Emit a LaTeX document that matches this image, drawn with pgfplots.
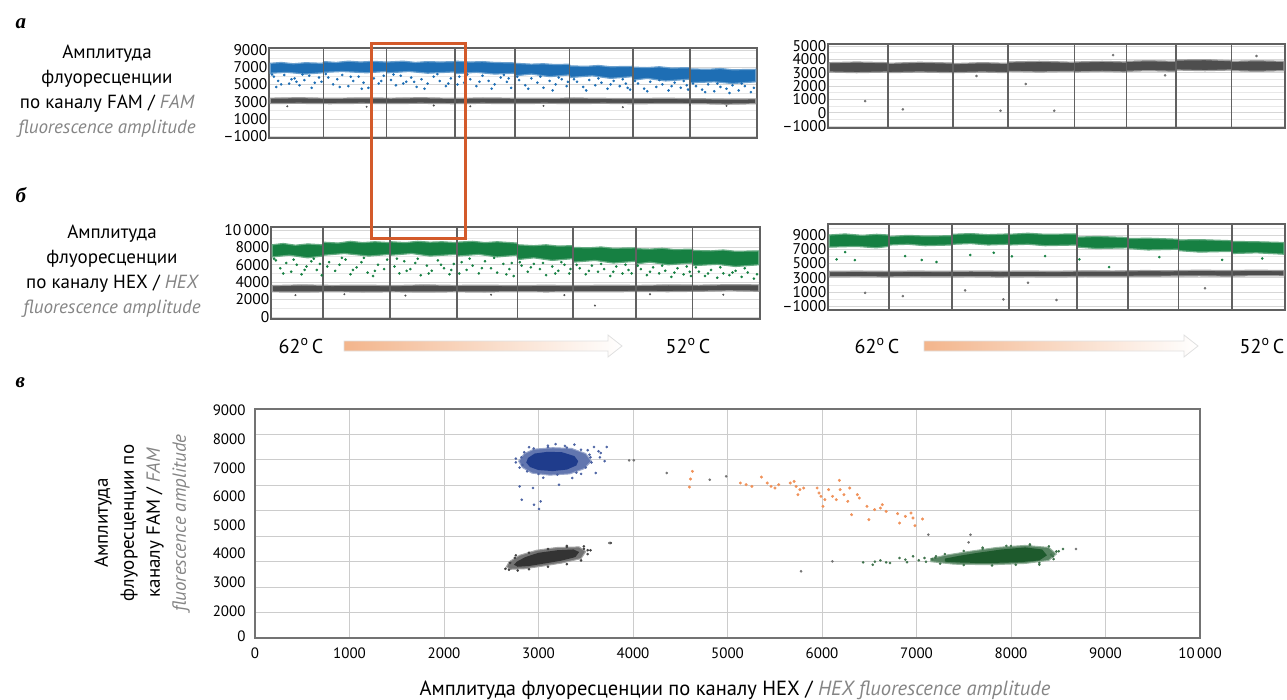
\documentclass[border=0pt]{standalone}
\usepackage{fontspec}
\setmainfont{PT Sans}
\newfontfamily\serifbi{Liberation Serif}
\usepackage{pgfplots}
\pgfplotsset{compat=1.18}
\definecolor{famblue}{HTML}{1E6EB4}
\definecolor{hexgreen}{HTML}{168042}
\definecolor{negray}{HTML}{4E4E4E}
\definecolor{labgray}{HTML}{858585}
\definecolor{redbox}{HTML}{D35A2A}
\definecolor{navy}{HTML}{1F3C8C}
\definecolor{dkgreen}{HTML}{1D5A2C}
\definecolor{orng}{HTML}{F0925A}
\definecolor{peach}{HTML}{F3B58C}
\pgfplotsset{
  strip/.style={
    scale only axis, anchor=north west,
    xmin=0, xmax=8, xtick=\empty,
    scaled y ticks=false,
    axis line style={draw=black!62, line width=1.4pt},
    major tick length=0pt, minor tick length=0pt,
    ymajorgrids, yminorgrids,
    grid style={draw=black!16, line width=0.6pt},
    minor grid style={draw=black!9, line width=0.5pt},
    tick label style={font=\fontsize{15.5}{15.5}\selectfont},
    yticklabel style={inner sep=1.5pt},
    /pgf/number format/assume math mode=true,
    clip=true,
  },
  div/.style={draw=black!62, line width=1.4pt, forget plot},
}
\begin{document}
\begin{tikzpicture}[x=1pt,y=1pt]
\path[use as bounding box] (0pt,0pt) rectangle (1287pt,-699pt);

% ---------- panel a, left ----------
\begin{axis}[strip, at={(269pt,-48pt)}, width=488pt, height=90pt,
  ymin=-1230, ymax=9230,
  ytick={-1000,1000,3000,5000,7000,9000},
  yticklabels={–1000,1000,3000,5000,7000,9000},
  minor ytick={0,2000,4000,6000,8000}]
\addplot[fill=negray, draw=negray!55, line width=1.2pt] coordinates {
(0.02,3400)(0.5,3450)(1,3380)(1.5,3430)(2,3400)(2.5,3450)(3,3380)(3.5,3420)(4,3400)(4.5,3380)(5,3420)(5.5,3380)(6,3350)(6.5,3400)(7,3330)(7.5,3300)(7.98,3320)
(7.98,2750)(7.5,2700)(7,2760)(6.5,2780)(6,2750)(5.5,2800)(5,2780)(4.5,2800)(4,2770)(3.5,2800)(3,2760)(2.5,2800)(2,2780)(1.5,2800)(1,2760)(0.5,2800)(0.02,2780)} -- cycle;
\addplot[only marks, mark=*, mark size=0.8pt, negray] coordinates {
(0.3,2450)(1.6,2400)(2.7,2550)(4.5,2500)(5.8,2350)(7.5,2500)(6.9,2600)(3.3,2450)};
\addplot[fill=famblue, draw=famblue!65, line width=1.2pt] coordinates {
(0.02,7450)(0.2,7550)(0.4,7400)(0.6,7520)(0.88,7450)
(0.90,7650)(1.1,7550)(1.3,7700)(1.5,7600)(1.7,7680)(1.92,7600)
(1.94,7600)(2.2,7700)(2.4,7550)(2.6,7650)(2.8,7600)(3.04,7650)
(3.06,7700)(3.3,7600)(3.5,7650)(3.7,7550)(4.02,7500)
(4.04,7450)(4.3,7350)(4.5,7400)(4.7,7300)(4.92,7350)
(4.94,7150)(5.2,7100)(5.4,7200)(5.6,7050)(5.96,7100)
(5.98,7000)(6.2,6950)(6.4,7050)(6.6,6900)(6.89,6950)
(6.91,6800)(7.2,6750)(7.4,6850)(7.6,6700)(7.98,6750)
(7.98,5300)(7.6,5100)(7.3,5300)(6.91,5200)
(6.89,5600)(6.5,5400)(6.2,5700)(5.98,5500)
(5.96,5900)(5.6,5700)(5.3,6000)(4.94,5800)
(4.92,6100)(4.6,5900)(4.3,6200)(4.04,6000)
(4.02,6300)(3.7,6200)(3.4,6400)(3.06,6250)
(3.04,6450)(2.6,6300)(2.3,6500)(1.94,6350)
(1.92,6500)(1.6,6350)(1.2,6500)(0.90,6400)
(0.88,6350)(0.6,6200)(0.3,6400)(0.02,6300)} -- cycle;
\addplot[only marks, mark=*, mark size=1.1pt, famblue] coordinates {
(0.08,5900)(0.15,5400)(0.25,6100)(0.33,5100)(0.42,5700)(0.5,4900)(0.58,5500)(0.66,6000)(0.75,5200)(0.82,5800)(0.12,4700)(0.45,5300)
(0.97,5800)(1.05,5000)(1.12,5600)(1.2,6100)(1.3,4800)(1.38,5400)(1.47,5900)(1.55,5200)(1.63,4600)(1.72,5700)(1.8,5100)(1.88,6000)
(2.0,5500)(2.08,4900)(2.16,6000)(2.25,5300)(2.33,5800)(2.42,4700)(2.5,5600)(2.6,5100)(2.7,5900)(2.8,5400)(2.9,4800)(2.98,5700)
(3.12,5900)(3.2,5200)(3.3,5600)(3.4,4800)(3.5,6000)(3.6,5400)(3.7,5000)(3.8,5800)(3.9,5300)(3.97,4600)
(4.1,5500)(4.2,4900)(4.3,5700)(4.4,5200)(4.5,4600)(4.6,5400)(4.7,5000)(4.8,5600)(4.88,4800)
(5.05,5300)(5.15,4700)(5.25,5500)(5.35,4900)(5.45,5200)(5.55,4500)(5.65,5400)(5.75,4800)(5.85,5100)(5.92,4400)
(6.05,5100)(6.15,4500)(6.25,5300)(6.35,4700)(6.45,5000)(6.55,4300)(6.65,5200)(6.75,4600)(6.85,4900)
(7.0,4800)(7.1,4400)(7.2,5000)(7.3,4200)(7.4,4700)(7.5,4500)(7.6,4900)(7.7,4300)(7.8,4800)(7.9,4100)
(0.05,6150)(0.2,5000)(0.37,5600)(0.55,6150)(0.7,4600)(0.86,5300)
(0.93,6200)(1.16,4700)(1.34,5900)(1.52,4500)(1.68,6200)(1.84,5400)
(2.04,6150)(2.2,5100)(2.38,5300)(2.55,4500)(2.76,6200)(2.94,5100)
(3.09,5000)(3.25,6150)(3.45,5300)(3.65,4500)(3.85,6100)(3.93,5700)
(4.07,5900)(4.25,4500)(4.45,5900)(4.65,4300)(4.75,5800)(4.9,5300)
(5.0,5600)(5.2,4300)(5.4,5700)(5.6,5000)(5.8,5600)(5.88,4600)
(6.0,5400)(6.2,4200)(6.4,5500)(6.6,4800)(6.8,5400)(6.87,4400)
(6.95,5100)(7.15,4100)(7.35,5100)(7.55,4000)(7.75,5100)(7.95,4600)};
\pgfplotsinvokeforeach{0.89,1.93,3.05,4.03,4.93,5.97,6.90}{\addplot[div] coordinates {(#1,-3000) (#1,12000)};}
\end{axis}

% ---------- panel a, right ----------
\begin{axis}[strip, at={(828pt,-44pt)}, width=457pt, height=84pt,
  ymin=-1150, ymax=5150,
  ytick={-1000,0,1000,2000,3000,4000,5000},
  yticklabels={–1000,0,1000,2000,3000,4000,5000},
  minor ytick={-500,500,1500,2500,3500,4500}]
\addplot[fill=negray, draw=negray!55, line width=1.2pt] coordinates {
(0.02,3750)(0.5,3800)(1.04,3750)(1.06,3700)(1.6,3780)(2.18,3720)(2.2,3680)(2.7,3750)(3.14,3700)(3.16,3800)(3.7,3850)(4.3,3780)(4.32,3800)(4.8,3850)(5.21,3800)(5.23,3850)(5.6,3900)(6.08,3850)(6.1,3950)(6.6,3980)(7.05,3900)(7.07,3850)(7.5,3900)(7.98,3850)
(7.98,3150)(7.5,3100)(7.07,3150)(7.05,3200)(6.6,3150)(6.1,3200)(6.08,3100)(5.6,3150)(5.23,3100)(5.21,3050)(4.8,3100)(4.32,3050)(4.3,3100)(3.7,3050)(3.16,3100)(3.14,3000)(2.7,3050)(2.2,3000)(2.18,3000)(1.6,3050)(1.06,3000)(1.04,3050)(0.5,3000)(0.02,3050)} -- cycle;
\addplot[only marks, mark=*, mark size=1.1pt, negray!80] coordinates {
(0.65,870)(1.31,250)(3.02,150)(3.46,2150)(3.96,150)(4.99,4320)(7.5,4250)(2.6,2750)(5.9,2800)};
\pgfplotsinvokeforeach{1.05,2.19,3.15,4.31,5.22,6.09,7.06}{\addplot[div] coordinates {(#1,-3000) (#1,12000)};}
\end{axis}

% ---------- panel b, left ----------
\begin{axis}[strip, at={(271pt,-227pt)}, width=489pt, height=92pt,
  ymin=-250, ymax=10350,
  ytick={0,2000,4000,6000,8000,10000},
  yticklabels={0,2000,4000,6000,8000,10\,000},
  minor ytick={1000,3000,5000,7000,9000}]
\addplot[fill=negray, draw=negray!55, line width=1.2pt] coordinates {
(0.02,3600)(0.5,3680)(1,3620)(1.5,3650)(2,3600)(2.5,3680)(3,3620)(3.5,3650)(4,3600)(4.5,3640)(5,3600)(5.5,3650)(6,3620)(6.5,3680)(7,3650)(7.5,3700)(7.98,3680)
(7.98,2950)(7.5,3000)(7,2950)(6.5,2900)(6,2920)(5.5,2880)(5,2900)(4.5,2870)(4,2900)(3.5,2860)(3,2880)(2.5,2850)(2,2880)(1.5,2860)(1,2890)(0.5,2850)(0.02,2880)} -- cycle;
\addplot[only marks, mark=*, mark size=0.8pt, negray] coordinates {
(0.4,2500)(1.2,2600)(2.2,2450)(3.6,2550)(4.8,2500)(6.2,2600)(7.4,2550)(5.3,1300)};
\addplot[fill=hexgreen, draw=hexgreen!65, line width=1.2pt] coordinates {
(0.02,8300)(0.2,8450)(0.4,8250)(0.6,8400)(0.84,8300)(0.86,8600)(1.1,8500)(1.3,8700)(1.5,8550)(1.7,8650)(1.94,8550)(1.96,8650)(2.2,8550)(2.4,8700)(2.6,8600)(2.8,8650)(3.03,8550)(3.05,8600)(3.3,8700)(3.5,8550)(3.7,8650)(4.02,8500)(4.04,8300)(4.3,8200)(4.5,8300)(4.7,8150)(4.93,8200)(4.95,8000)(5.2,7950)(5.4,8050)(5.6,7900)(5.96,7950)(5.98,7850)(6.2,7800)(6.4,7900)(6.6,7750)(6.89,7800)(6.91,7650)(7.2,7600)(7.4,7700)(7.6,7550)(7.98,7600)
(7.98,6000)(7.6,5800)(7.3,6050)(6.91,5900)(6.89,6200)(6.5,6000)(6.2,6300)(5.98,6100)(5.96,6400)(5.6,6200)(5.3,6500)(4.95,6300)(4.93,6700)(4.6,6500)(4.3,6800)(4.04,6600)(4.02,7100)(3.7,6900)(3.4,7200)(3.05,7000)(3.03,7200)(2.6,7000)(2.3,7300)(1.96,7100)(1.94,7200)(1.6,7000)(1.2,7300)(0.86,7100)(0.84,7000)(0.6,6800)(0.3,7100)(0.02,6900)} -- cycle;
\addplot[only marks, mark=*, mark size=1.1pt, hexgreen] coordinates {
(0.08,6500)(0.15,5600)(0.25,6200)(0.33,5200)(0.42,6000)(0.5,4900)(0.58,5800)(0.66,6400)(0.75,5400)(0.8,6100)
(0.95,6300)(1.05,5300)(1.12,6000)(1.22,6600)(1.3,4900)(1.4,5700)(1.48,6300)(1.58,5100)(1.67,4700)(1.75,6000)(1.85,5500)
(2.02,5800)(2.1,5000)(2.18,6400)(2.28,5500)(2.36,6200)(2.45,4800)(2.55,5900)(2.63,5300)(2.73,6500)(2.83,5600)(2.92,4900)(2.99,6100)
(3.12,6300)(3.2,5400)(3.3,5900)(3.4,5000)(3.5,6400)(3.6,5600)(3.7,5100)(3.8,6100)(3.9,5500)(3.97,4700)
(4.1,5900)(4.2,5200)(4.3,6100)(4.4,5500)(4.5,4800)(4.6,5800)(4.7,5300)(4.8,6000)(4.88,5000)
(5.05,5600)(5.15,4900)(5.25,5900)(5.35,5200)(5.45,5500)(5.55,4700)(5.65,5800)(5.75,5000)(5.85,5400)
(6.05,5500)(6.15,4800)(6.25,5700)(6.35,5000)(6.45,5300)(6.55,4600)(6.65,5600)(6.75,4900)(6.85,5200)
(7.0,5200)(7.1,4700)(7.2,5400)(7.3,4500)(7.4,5000)(7.5,4800)(7.6,5300)(7.7,4600)(7.8,5100)(7.9,4400)
(0.05,6700)(0.2,5000)(0.37,6600)(0.55,5400)(0.7,6700)(0.83,4800)
(0.92,5800)(1.16,6800)(1.34,5400)(1.52,6800)(1.7,5300)(1.9,6600)
(2.06,6700)(2.22,5300)(2.4,6700)(2.58,5000)(2.78,6000)(2.95,5400)
(3.08,5000)(3.25,6700)(3.45,5600)(3.65,6800)(3.85,4900)(3.94,6200)
(4.07,6300)(4.25,5700)(4.45,6200)(4.65,5000)(4.75,6300)(4.9,5500)
(5.0,6000)(5.2,5300)(5.4,6100)(5.6,5200)(5.8,6000)(5.9,5000)
(6.0,5900)(6.2,5200)(6.4,5900)(6.6,5100)(6.8,5800)(6.87,4700)
(6.95,5700)(7.15,5000)(7.35,5700)(7.55,5100)(7.75,5600)(7.95,4900)};
\pgfplotsinvokeforeach{0.85,1.95,3.04,4.03,4.94,5.97,6.90}{\addplot[div] coordinates {(#1,-3000) (#1,12000)};}
\end{axis}

% ---------- panel b, right ----------
\begin{axis}[strip, at={(828pt,-224pt)}, width=457pt, height=86pt,
  ymin=-1550, ymax=10550,
  ytick={-1000,1000,3000,5000,7000,9000},
  yticklabels={–1000,1000,3000,5000,7000,9000},
  minor ytick={0,2000,4000,6000,8000,10000}]
\addplot[fill=negray, draw=negray!55, line width=1.2pt] coordinates {
(0.02,3850)(0.5,3900)(1,3850)(1.5,3900)(2,3870)(2.5,3920)(3,3880)(3.5,3900)(4,3870)(4.5,3950)(5,3920)(5.5,4000)(6,3980)(6.5,4050)(7,4000)(7.5,4050)(7.98,4000)
(7.98,3250)(7.5,3280)(7,3200)(6.5,3250)(6,3220)(5.5,3200)(5,3150)(4.5,3180)(4,3120)(3.5,3150)(3,3100)(2.5,3150)(2,3120)(1.5,3150)(1,3100)(0.5,3150)(0.02,3120)} -- cycle;
\addplot[only marks, mark=*, mark size=1.1pt, negray!80] coordinates {
(0.65,870)(1.31,410)(3.07,-60)(3.5,2280)(4.0,-150)(2.4,1200)(6.6,1500)};
\addplot[fill=hexgreen, draw=hexgreen!65, line width=1.2pt] coordinates {
(0.02,9000)(0.3,9150)(0.6,8950)(0.85,9100)(1.06,9000)(1.08,8800)(1.4,8950)(1.7,8850)(2.16,8900)(2.18,9100)(2.5,9200)(2.8,9050)(3.16,9150)(3.18,9100)(3.5,9250)(3.8,9100)(4.35,9150)(4.37,8700)(4.7,8800)(5.24,8650)(5.26,8500)(5.6,8550)(6.13,8400)(6.15,8300)(6.5,8350)(7.06,8200)(7.08,8100)(7.5,8050)(7.98,7950)
(7.98,6300)(7.5,6500)(7.08,6400)(7.06,6700)(6.5,6600)(6.15,6800)(6.13,7000)(5.6,6900)(5.26,7100)(5.24,7200)(4.7,7100)(4.37,7300)(4.35,7600)(3.8,7500)(3.5,7700)(3.18,7600)(3.16,7700)(2.8,7600)(2.5,7800)(2.18,7700)(2.16,7600)(1.7,7500)(1.4,7700)(1.08,7600)(1.06,7400)(0.85,7200)(0.5,7400)(0.02,7300)} -- cycle;
\addplot[only marks, mark=*, mark size=1.1pt, hexgreen] coordinates {
(0.15,5580)(0.47,5480)(1.35,6040)(1.64,5480)(1.9,5200)(2.49,6180)(3.22,6000)(3.8,6040)(4.4,5580)(4.92,4490)(0.3,6600)(5.8,5900)(6.9,5500)(7.6,5700)(2.9,6500)};
\pgfplotsinvokeforeach{1.07,2.17,3.17,4.36,5.25,6.14,7.07}{\addplot[div] coordinates {(#1,-3000) (#1,12000)};}
\end{axis}

% ---------- panel v: scatter ----------
\begin{axis}[at={(255pt,-409pt)}, anchor=north west, scale only axis, width=945pt, height=229pt,
  xmin=0, xmax=10000, ymin=0, ymax=9000,
  scaled x ticks=false, scaled y ticks=false,
  xtick={0,1000,...,10000},
  xticklabels={0,1000,2000,3000,4000,5000,6000,7000,8000,9000,10\,000},
  ytick={50,1044,2184,3312,4413,5564,6681,7793,8945},
  yticklabels={0,2000,3000,4000,5000,6000,7000,8000,9000},
  minor ytick={1000,2000,...,8000},
  xmajorgrids, yminorgrids,
  major grid style={draw=black!20, line width=0.9pt},
  minor grid style={draw=black!20, line width=0.9pt},
  major tick length=0pt, minor tick length=0pt,
  axis line style={draw=black!55, line width=2.2pt},
  tick label style={font=\fontsize{15}{15}\selectfont},
  xticklabel style={yshift=-6pt},
  yticklabel style={xshift=-6pt},
  /pgf/number format/assume math mode=true,
  clip=true]
% blue cluster
\addplot[fill=navy!70, draw=navy!45, line width=1pt] coordinates {
(3560,6950)(3500,7250)(3350,7450)(3150,7480)(2950,7420)(2850,7250)(2790,6950)(2830,6700)(2930,6480)(3120,6400)(3330,6450)(3480,6650)} -- cycle;
\addplot[fill=navy, draw=none] coordinates {
(3420,6950)(3380,7150)(3250,7300)(3100,7320)(2960,7250)(2890,7080)(2870,6900)(2910,6720)(3000,6600)(3150,6560)(3300,6620)(3400,6780)} -- cycle;
\addplot[only marks, mark=*, mark size=1.1pt, navy!80] coordinates {
(3587,7506)(3722,7506)(3658,7270)(3605,6484)(3635,7336)(2801,5958)(2822,5435)(2952,5238)(3023,5368)(3005,5069)(2942,5895)(3217,6024)(3358,6288)(3520,7380)(3550,7100)(2800,6700)(2760,6900)(3450,6450)(3050,6300)(3280,7550)(3100,7560)(2900,7500)
(2850,7300)(2820,7100)(2830,6800)(2880,6550)(3000,6450)(3200,6420)(3400,6500)(3500,6700)(3560,6900)(3540,7200)(3450,7400)(3300,7480)(3100,7500)(2950,7450)(3650,7100)(3700,6950)(2760,7050)(3380,7600)(3180,7620)};
% black cluster
\addplot[fill=black!55, draw=black!35, line width=1pt] coordinates {
(2700,2700)(2850,2720)(3050,2830)(3250,2950)(3450,3120)(3500,3400)(3430,3580)(3200,3560)(2980,3450)(2800,3250)(2690,3000)(2660,2800)} -- cycle;
\addplot[fill=black!80, draw=none] coordinates {
(2780,2800)(2900,2830)(3050,2920)(3230,3030)(3390,3180)(3430,3380)(3370,3480)(3200,3450)(3000,3350)(2860,3180)(2770,3000)(2740,2880)} -- cycle;
\addplot[only marks, mark=*, mark size=1.1pt, black!75] coordinates {
(2688,2683)(2650,2720)(3764,3733)(3520,3450)(3480,3600)(2760,3250)(3300,3620)
(2700,2950)(2750,3150)(2900,3350)(3100,3500)(3300,3580)(3480,3500)(3520,3300)(3450,3050)(3300,2900)(3100,2800)(2900,2700)(2780,2650)(3550,3450)};
% orange (rain) points
\addplot[only marks, mark=*, mark size=1.3pt, orng] coordinates {
(4629,6550)(4609,6249)(4597,5934)(5136,6092)(5197,6026)(5258,5961)(5359,6327)(5420,6092)(5461,5961)(5502,5895)(5542,6026)
(5705,6157)(5726,5961)(5766,5830)(5745,5633)(5806,5895)(5664,6092)
(5948,5895)(5969,5699)(5989,5568)(6030,5437)(6010,5175)(6070,5830)(6111,5568)(6151,5437)(6184,6197)(6192,5830)(6232,5633)(6273,5371)(6293,5895)(6313,4847)(6374,5633)(6395,5502)(6476,5175)(6496,4650)(6557,5044)(6618,5109)(6638,5240)(6679,4978)(6800,4886)(6821,4519)(6882,4781)(6942,4912)(6963,4716)(6983,4414)(7064,4677)};
% grey odd points
\addplot[only marks, mark=*, mark size=1.1pt, black!55] coordinates {
(3959,6982)(4008,6982)(4357,6485)(4812,6223)(4986,6354)(3748,3733)(5778,2620)(6110,3013)(7551,3760)(7571,4061)(8687,3498)(7125,4061)};
% green cluster
\addplot[fill=dkgreen!75, draw=dkgreen!45, line width=1pt] coordinates {
(7150,3000)(7400,2900)(7800,2880)(8150,2930)(8400,3050)(8480,3300)(8400,3560)(8150,3640)(7850,3560)(7550,3400)(7300,3250)(7150,3120)} -- cycle;
\addplot[fill=dkgreen, draw=none] coordinates {
(7300,3000)(7500,2960)(7800,2950)(8100,2980)(8300,3050)(8380,3250)(8330,3480)(8150,3560)(7900,3480)(7650,3350)(7450,3230)(7300,3120)} -- cycle;
\addplot[only marks, mark=*, mark size=1.1pt, dkgreen!85] coordinates {
(6435,2974)(6537,2882)(6618,3052)(6679,2974)(6719,2947)(6821,3144)(6882,3078)(6963,3209)(7024,3052)(7084,3144)(7166,3104)(7206,3209)(8424,3275)(8505,3406)(8444,3209)(8200,3680)(8000,3620)(8550,3500)(7700,3500)(7100,3000)(8300,2880)(6560,3000)(6900,2980)
(7200,3150)(7300,3300)(7500,3420)(7700,3550)(7950,3620)(8200,3650)(8400,3600)(8480,3400)(8450,3100)(8300,2950)(8050,2880)(7800,2850)(7500,2870)(7250,2920)};
\end{axis}

% ---------- annotations ----------
\draw[redbox, line width=3pt] (371pt,-43pt) rectangle (465pt,-238pt);

\node[font=\serifbi\bfseries\itshape\fontsize{21}{21}\selectfont, anchor=west] at (12pt,-24pt) {а};
\node[font=\serifbi\bfseries\itshape\fontsize{21}{21}\selectfont, anchor=west] at (12pt,-195pt) {б};
\node[font=\serifbi\bfseries\itshape\fontsize{21}{21}\selectfont, anchor=west] at (12pt,-383pt) {в};

\node[align=center, font=\fontsize{19}{25}\selectfont] at (107pt,-91pt)
 {Амплитуда\\флуоресценции\\по каналу FAM / \textcolor{labgray}{\itshape FAM}\\\textcolor{labgray}{\itshape fluorescence amplitude}};
\node[align=center, font=\fontsize{19}{25}\selectfont] at (112pt,-271pt)
 {Амплитуда\\флуоресценции\\по каналу HEX / \textcolor{labgray}{\itshape HEX}\\\textcolor{labgray}{\itshape fluorescence amplitude}};

\node[rotate=90, align=center, font=\fontsize{19}{26}\selectfont] at (142pt,-523pt)
 {Амплитуда\\флуоресценции по\\каналу FAM / \textcolor{labgray}{\itshape FAM}\\\textcolor{labgray}{\itshape fluorescence amplitude}};
\node[font=\fontsize{20.5}{20.5}\selectfont] at (735pt,-690pt)
 {Амплитуда флуоресценции по каналу HEX / \textcolor{labgray}{\itshape HEX fluorescence amplitude}};

% temperature gradient labels
\node[font=\fontsize{20}{20}\selectfont] at (301pt,-346pt) {62\textsuperscript{o}\,C};
\node[font=\fontsize{20}{20}\selectfont] at (688pt,-346pt) {52\textsuperscript{o}\,C};
\node[font=\fontsize{20}{20}\selectfont] at (877pt,-346pt) {62\textsuperscript{o}\,C};
\node[font=\fontsize{20}{20}\selectfont] at (1262pt,-346pt) {52\textsuperscript{o}\,C};
\shade[left color=peach, right color=white, draw=black!12, line width=0.8pt]
 (344pt,-341pt) -- (608pt,-341pt) -- (608pt,-335pt) -- (622pt,-346pt) -- (608pt,-357pt) -- (608pt,-351pt) -- (344pt,-351pt) -- cycle;
\shade[left color=peach, right color=white, draw=black!12, line width=0.8pt]
 (924pt,-341pt) -- (1184pt,-341pt) -- (1184pt,-335pt) -- (1198pt,-346pt) -- (1184pt,-357pt) -- (1184pt,-351pt) -- (924pt,-351pt) -- cycle;
\end{tikzpicture}
\end{document}
